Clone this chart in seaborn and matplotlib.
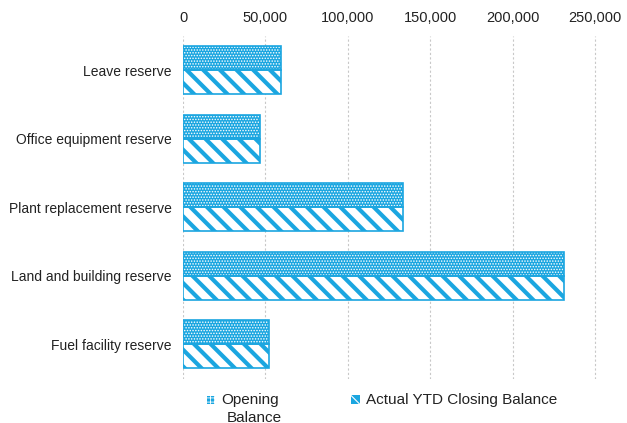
import pandas as pd
import matplotlib.pyplot as plt
import matplotlib.ticker as mticker
from matplotlib.patches import Rectangle
import seaborn as sns

# Data
categories = ["Leave reserve", "Office equipment reserve", "Plant replacement reserve",
              "Land and building reserve", "Fuel facility reserve"]
opening = [59500, 46800, 133500, 231500, 52000]
closing = [59500, 46800, 133500, 231500, 52000]
series = ["Opening\nBalance", "Actual YTD Closing Balance"]

df = pd.DataFrame({
    "Reserve": categories * 2,
    "Value": opening + closing,
    "Series": [series[0]] * len(categories) + [series[1]] * len(categories),
})

blue = "#1BA6E0"

sns.set_style("white")
plt.rcParams["font.family"] = ["Liberation Sans", "DejaVu Sans"]

W, H = 627, 423
fig = plt.figure(figsize=(W / 100, H / 100), dpi=100)
ax = fig.add_axes([0.292, 0.105, 0.683, 0.81])

sns.barplot(data=df, y="Reserve", x="Value", hue="Series", orient="h",
            width=0.7, gap=0, ax=ax, legend=False, palette=[blue, blue])


def set_hlw(p, w):
    if hasattr(p, "set_hatch_linewidth"):
        p.set_hatch_linewidth(w)
    else:
        p._hatch_linewidth = w


def style(p, kind):
    if kind == 0:
        p.set_facecolor(blue)
        p.set_edgecolor("white")
        p.set_hatch("......")
        set_hlw(p, 0.7)
    else:
        p.set_facecolor("white")
        p.set_edgecolor(blue)
        p.set_hatch("\\\\")
        set_hlw(p, 3.0)
    p.set_linewidth(0)


n = len(categories)
for i, p in enumerate(ax.patches[:2 * n]):
    style(p, 0 if i < n else 1)
    # outline
    ax.add_patch(Rectangle(p.get_xy(), p.get_width(), p.get_height(),
                           fill=False, edgecolor=blue, linewidth=1.2, zorder=3))

ax.set_xlim(0, 260000)
ax.set_xticks([0, 50000, 100000, 150000, 200000, 250000])
ax.xaxis.set_major_formatter(mticker.StrMethodFormatter("{x:,.0f}"))
ax.xaxis.tick_top()
ax.tick_params(axis="x", length=0, labelsize=10.5, pad=8, colors="#222222")
ax.tick_params(axis="y", length=0, labelsize=10, pad=8, colors="#222222")
ax.set_xlabel("")
ax.set_ylabel("")
ax.grid(axis="x", color="#c8c8c8", linestyle=(0, (2, 2)), linewidth=0.8)
ax.set_axisbelow(True)
for s in ax.spines.values():
    s.set_visible(False)


# legend at the bottom (handle aligned with the first text line)
def fx(x):
    return x / W


def fy(y):
    return 1 - y / H


h1 = Rectangle((fx(207), fy(404)), fx(8), 8 / H, transform=fig.transFigure,
               facecolor=blue, edgecolor="white", hatch="++++", linewidth=0)
h2 = Rectangle((fx(351), fy(404)), fx(9), 9 / H, transform=fig.transFigure,
               facecolor=blue, edgecolor="white", hatch="\\\\\\", linewidth=0)
set_hlw(h1, 0.6)
set_hlw(h2, 0.8)
fig.patches.extend([h1, h2])
fig.text(fx(221), fy(400), "Opening", fontsize=11, va="center", ha="left", color="#222222")
fig.text(fx(254), fy(418), "Balance", fontsize=11, va="center", ha="center", color="#222222")
fig.text(fx(366), fy(400), series[1], fontsize=11, va="center", ha="left", color="#222222")

plt.savefig("out.png", dpi=100)
